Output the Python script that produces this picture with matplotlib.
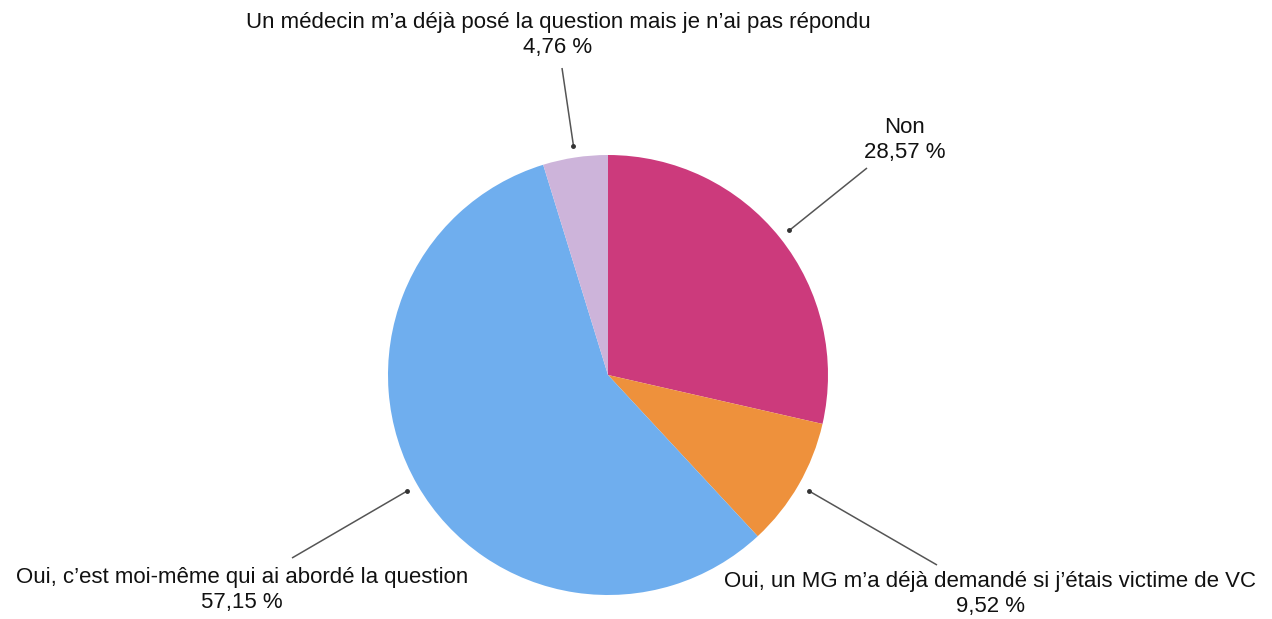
import numpy as np
import matplotlib
matplotlib.use("Agg")
from matplotlib import pyplot as plt

plt.rcParams["font.family"] = ["Liberation Sans", "DejaVu Sans"]

labels = [
    "Non",
    "Oui, un MG m\u2019a déjà demandé si j\u2019étais victime de VC",
    "Oui, c\u2019est moi-même qui ai abordé la question",
    "Un médecin m\u2019a déjà posé la question mais je n\u2019ai pas répondu",
]
values = [28.57, 9.52, 57.15, 4.76]
pct_text = ["28,57 %", "9,52 %", "57,15 %", "4,76 %"]
colors = ["#CC3A7C", "#EE913C", "#6FAEEE", "#CDB4DA"]

# label placement (pixel coords, y from top): line outer end, text center
line_ends = [(867, 168), (937, 565), (292, 558), (562, 68)]
text_pos = [(905, 140), (990, 594), (242, 590), (558, 35)]

W, H = 1272, 619
cx, cy, r = 608, H - 375, 220

fig = plt.figure(figsize=(W / 100, H / 100), dpi=100)
ax = fig.add_axes([0, 0, 1, 1])

wedges, _ = ax.pie(values, colors=colors, startangle=90, counterclock=False,
                   center=(cx, cy), radius=r, frame=True,
                   wedgeprops=dict(linewidth=0))
ax.set_xlim(0, W)
ax.set_ylim(0, H)
ax.set_aspect("equal")
ax.axis("off")

for w, lab, pct, (ex, ey), (tx, ty) in zip(wedges, labels, pct_text, line_ends, text_pos):
    ang = np.deg2rad((w.theta1 + w.theta2) / 2)
    sx = cx + (r + 12) * np.cos(ang)
    sy = cy + (r + 12) * np.sin(ang)
    ax.plot([sx, ex], [sy, H - ey], color="#555555", lw=1.1, solid_capstyle="butt")
    ax.plot([sx], [sy], marker="o", ms=2.5, color="#333333")
    ax.text(tx, H - ty, lab + "\n" + pct, ha="center", va="center",
            fontsize=16, linespacing=1.3, color="#111111")

fig.savefig("out.png", dpi=100, facecolor="white")
